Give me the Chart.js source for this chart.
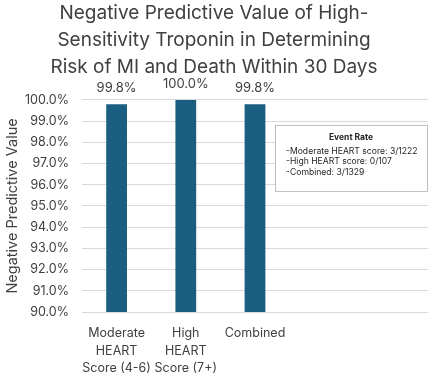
<!DOCTYPE html>
<html>
<head>
<meta charset="utf-8">
<script src="https://cdn.jsdelivr.net/npm/chart.js@4"></script>
<style>
  html, body { margin: 0; padding: 0; background: #fff; }
  #wrap { width: 440px; height: 383px; }
</style>
</head>
<body>
<div id="wrap"><canvas id="npvChart" width="440" height="383"></canvas></div>
<script>
const titleLines = ["Negative Predictive Value of High-", "Sensitivity Troponin in Determining", "Risk of MI and Death Within 30 Days"];
const categories = [["Moderate", "HEART", "Score (4-6)"], ["High", "HEART", "Score (7+)"], "Combined", "", ""];
const npvValues = [99.8, 100.0, 99.8, null, null];
const yMin = 90;
const yMax = 100;
const yStep = 1;
const boxTitle = "Event Rate";
const boxLines = ["-Moderate HEART score: 3/1222", "-High HEART score: 0/107", "-Combined: 3/1329"];

const FONT = "Inter, 'Open Sans', sans-serif";
const TEXT = "#404040";

// value labels above bars
const valueLabels = {
    id: "valueLabels",
    afterDatasetsDraw(chart) {
        const ctx = chart.ctx;
        const meta = chart.getDatasetMeta(0);
        ctx.save();
        ctx.font = "13px " + FONT;
        ctx.fillStyle = TEXT;
        ctx.textAlign = "center";
        ctx.textBaseline = "alphabetic";
        meta.data.forEach((bar, i) => {
            const v = npvValues[i];
            if (v == null) return;
            ctx.fillText(v.toFixed(1) + "%", bar.x, bar.y - 12);
        });
        ctx.restore();
    }
};

// event-rate text box
const eventBox = {
    id: "eventBox",
    afterDraw(chart) {
        const ctx = chart.ctx;
        const area = chart.chartArea;
        const x = area.right - 153;
        const y = area.top + 25;
        const w = 152;
        const h = 66;
        ctx.save();
        ctx.fillStyle = "#ffffff";
        ctx.fillRect(x, y, w, h);
        ctx.strokeStyle = "#bfbfbf";
        ctx.lineWidth = 1;
        ctx.strokeRect(x + 0.5, y + 0.5, w, h);
        ctx.fillStyle = "#262626";
        ctx.textBaseline = "middle";
        ctx.textAlign = "center";
        ctx.font = "bold 8.5px " + FONT;
        ctx.fillText(boxTitle, x + w / 2, y + 12);
        ctx.textAlign = "left";
        ctx.font = "8.6px " + FONT;
        boxLines.forEach((line, i) => {
            ctx.fillText(line, x + 11, y + 26 + i * 10.5);
        });
        ctx.restore();
    }
};

new Chart(document.getElementById("npvChart"), {
    type: "bar",
    data: {
        labels: categories,
        datasets: [{
            data: npvValues,
            backgroundColor: "#1a5f82",
            borderWidth: 0,
            barPercentage: 0.3,
            categoryPercentage: 1.0
        }]
    },
    options: {
        responsive: false,
        animation: false,
        devicePixelRatio: 1,
        layout: { padding: { left: 0, right: 12, top: 0, bottom: 0 } },
        plugins: {
            legend: { display: false },
            tooltip: { enabled: false },
            title: {
                display: true,
                text: titleLines,
                color: TEXT,
                font: { family: FONT, size: 19, weight: "normal", lineHeight: 1.42 },
                padding: { top: 0, bottom: 19 }
            }
        },
        scales: {
            x: {
                grid: { display: false, drawTicks: false },
                border: { display: false },
                afterFit(scale) { scale.height = 71; },
                ticks: {
                    color: TEXT,
                    font: { family: FONT, size: 12.5, lineHeight: 1.38 },
                    padding: 13,
                    autoSkip: false,
                    maxRotation: 0,
                    minRotation: 0
                }
            },
            y: {
                min: yMin,
                max: yMax,
                grid: { color: "#d9d9d9", drawTicks: false },
                border: { display: false },
                afterFit(scale) { scale.width = 82; },
                ticks: {
                    stepSize: yStep,
                    color: TEXT,
                    font: { family: FONT, size: 12.5 },
                    padding: 13,
                    callback: v => v.toFixed(1) + "%"
                },
                title: {
                    display: true,
                    text: "Negative Predictive Value",
                    color: TEXT,
                    font: { family: FONT, size: 14.5 },
                    padding: { top: 4, bottom: 2 }
                }
            }
        }
    },
    plugins: [valueLabels, eventBox]
});
</script>
</body>
</html>
